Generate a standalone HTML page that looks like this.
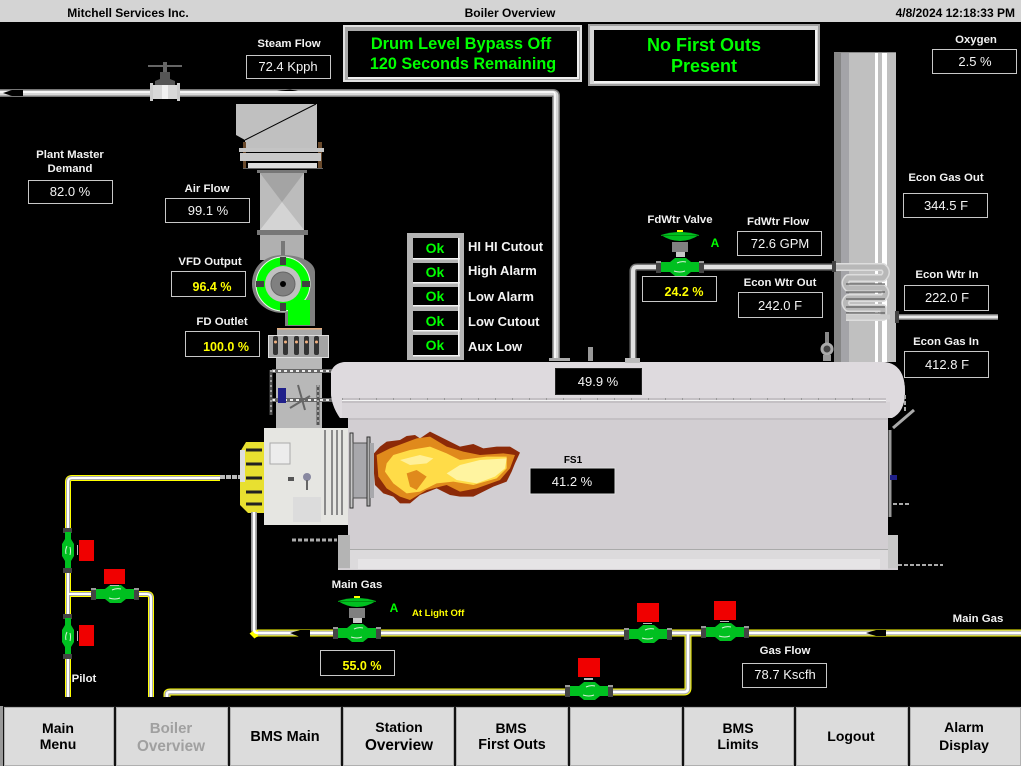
<!DOCTYPE html>
<html><head><meta charset="utf-8"><title>Boiler Overview</title>
<style>
html,body{margin:0;padding:0;background:#000;width:1021px;height:766px;overflow:hidden}
svg{display:block;font-family:"Liberation Sans",sans-serif}
.l{font-size:11.400px;font-weight:bold;fill:#f2f2f2;text-anchor:middle}
.v{font-size:13px;fill:#f4f4f4;text-anchor:middle}
.y{font-size:12.500px;font-weight:bold;fill:#ffff00;text-anchor:middle}
.b{fill:#000;stroke:#c8c8c8;stroke-width:1}
.a{font-size:13px;font-weight:bold;fill:#f4f4f4}
.g{font-weight:bold;fill:#00ff00;text-anchor:middle}
.m{font-size:14px;font-weight:bold;fill:#000;text-anchor:middle}
</style></head><body>
<svg width="1021" height="766" viewBox="0 0 1021 766" xmlns="http://www.w3.org/2000/svg">
<defs>
<g id="vh">
<rect x="-24" y="-6" width="5" height="12" fill="#444"/><rect x="19" y="-6" width="5" height="12" fill="#444"/>
<rect x="-24" y="-6" width="5" height="2" fill="#999"/><rect x="19" y="-6" width="5" height="2" fill="#999"/>
<path d="M-19-5H-10L-5-9H6L11-5H19V5H11L6 9H-5L-10 5H-19Z" fill="#00c020"/>
<path d="M-6 4Q0 6 5 4M-3-4Q1-6 6-5" stroke="#d8f0d8" fill="none"/>
</g>
<g id="vv">
<rect x="-5" y="-22" width="9" height="5" fill="#444"/><rect x="-5" y="18" width="9" height="5" fill="#444"/>
<path d="M-3-18V-11L-6-6V6L-3 11V18H3V11L6 6V-6L3-11V-18Z" fill="#00c020"/>
<path d="M-2 4Q-3 0-1-4M2 5Q3 1 2-3" stroke="#d8f0d8" fill="none"/>
<rect x="9" y="-5" width="1" height="10" fill="#bbb"/>
</g>
<g id="act">
<path d="M-19-32Q-10-35 0-35Q10-35 19-32Q10-26 0-26Q-10-26-19-32Z" fill="#00c020"/>
<rect x="-19" y="-32" width="38" height="1" fill="#009010"/>
<rect x="-3" y="-37" width="6" height="2" fill="#ffff00"/>
<rect x="-8" y="-25" width="16" height="10" fill="#808080"/><rect x="-4" y="-15" width="9" height="5" fill="#c8c8c8"/>
</g>
</defs>
<rect width="1021" height="766" fill="#000"/>

<!-- header -->
<rect width="1021" height="22" fill="#d4d4d4"/>
<text x="128" y="17" font-size="12" font-weight="bold" text-anchor="middle">Mitchell Services Inc.</text>
<text x="510" y="17" font-size="12" font-weight="bold" text-anchor="middle">Boiler Overview</text>
<text x="1015" y="17" font-size="12" font-weight="bold" text-anchor="end">4/8/2024 12:18:33 PM</text>

<!-- stack -->
<rect x="834" y="52" width="62" height="310" fill="#c0c0c0"/>
<rect x="834" y="52" width="7" height="310" fill="#868686"/><rect x="841" y="52" width="8" height="310" fill="#a4a4a8"/>
<rect x="875" y="52" width="3" height="310" fill="#fff"/><rect x="882" y="52" width="5" height="310" fill="#fff"/>
<rect x="834" y="52" width="62" height="1" fill="#888"/>

<!-- steam pipe -->
<path d="M0 93H553Q556 93 556 96V358" stroke="#777" stroke-width="8" fill="none"/>
<path d="M0 93H553Q556 93 556 96V358" stroke="#d8d8d8" stroke-width="5" fill="none"/>
<path d="M0 92H553Q555 92 555 95V358" stroke="#fff" stroke-width="1.500" fill="none"/>
<path d="M3 93L12 90H23V96H12Z" fill="#000"/><path d="M277 91L290 89.500L298 91Z" fill="#000"/>
<rect x="549" y="358" width="21" height="3" fill="#aaa"/>
<rect x="588" y="347" width="5" height="14" fill="#999"/>

<!-- steam valve -->
<rect x="148" y="65" width="34" height="2" fill="#666"/><rect x="163" y="62" width="4" height="16" fill="#666"/>
<path d="M160 72H170V79L175 81V85H155V81L160 79Z" fill="#555"/>
<rect x="150" y="83" width="3" height="18" fill="#ccc"/><rect x="177" y="83" width="3" height="18" fill="#ccc"/>
<rect x="153" y="85" width="24" height="14" fill="#d8d8d8"/><rect x="162" y="85" width="6" height="14" fill="#f0f0f0"/>

<!-- FD duct / fan -->
<path d="M236 104H317V148H245V140L236 135Z" fill="#c0c0c0"/>
<path d="M245 140L316 104" stroke="#000" fill="none"/>
<rect x="243" y="142" width="3" height="26" fill="#6a4a2c"/><rect x="318" y="142" width="4" height="26" fill="#6a4a2c"/>
<rect x="239" y="148" width="85" height="4" fill="#c4c4c4"/><rect x="240" y="153" width="81" height="8" fill="#c8c8c8"/>
<rect x="248" y="163" width="69" height="5" fill="#ddd"/><rect x="243" y="168" width="80" height="1" fill="#666"/>
<rect x="257" y="170" width="50" height="3" fill="#777"/>
<rect x="260" y="173" width="44" height="57" fill="#bcbcbc"/>
<path d="M260 173H304L282 202Z" fill="#a4a4a4"/><path d="M260 230H304L282 202Z" fill="#d4d4d4"/>
<rect x="257" y="230" width="51" height="5" fill="#777"/>
<rect x="260" y="235" width="44" height="25" fill="#b0b0b0"/>
<rect x="281" y="241" width="4" height="16" fill="#777"/>
<path d="M283 255C263 255 252 268 252 284C252 300 265 313 283 313H285V326H315V272C315 262 300 255 283 255Z" fill="#808080"/>
<circle cx="283" cy="284" r="27" fill="#00ff00"/><circle cx="283" cy="284" r="27" fill="none" stroke="#e8ffe8"/>
<rect x="288" y="300" width="22" height="25" fill="#00ff00"/>
<circle cx="283" cy="284" r="18" fill="#c0c0c0"/><circle cx="283" cy="284" r="12" fill="#808080" stroke="#666"/><circle cx="283" cy="284" r="3" fill="#000"/>
<rect x="280" y="257" width="6" height="8" fill="#404040"/><rect x="280" y="303" width="6" height="8" fill="#404040"/>
<rect x="256" y="281" width="8" height="6" fill="#404040"/><rect x="302" y="281" width="8" height="6" fill="#404040"/>
<rect x="277" y="328" width="45" height="7" fill="#aaa"/><rect x="277" y="328" width="45" height="1.500" fill="#e8b080"/>
<rect x="268.500" y="335.500" width="60" height="22" fill="#a4a4a4" stroke="#ddd"/>
<g fill="#333"><rect x="273" y="336" width="5" height="19" rx="2"/><rect x="283" y="336" width="5" height="19" rx="2"/><rect x="294" y="336" width="5" height="19" rx="2"/><rect x="304" y="336" width="5" height="19" rx="2"/><rect x="314" y="336" width="5" height="19" rx="2"/></g>
<g fill="#f0b080"><circle cx="275.500" cy="342" r="1.500"/><circle cx="285.500" cy="342" r="1.500"/><circle cx="296.500" cy="342" r="1.500"/><circle cx="306.500" cy="342" r="1.500"/><circle cx="316.500" cy="342" r="1.500"/></g>
<!-- burner piping -->
<rect x="276" y="358" width="46" height="72" fill="#b8b8b8"/>
<path d="M272 371H332M272 400H332" stroke="#666" stroke-width="4" fill="none"/>
<path d="M272 371H332M272 400H332" stroke="#eee" stroke-width="2" stroke-dasharray="3 3" fill="none"/>
<path d="M271 370V415M318 385V425" stroke="#555" stroke-width="3" fill="none"/>
<path d="M271 370V415M318 385V425" stroke="#eee" stroke-dasharray="2 3" fill="none"/>
<rect x="278" y="388" width="8" height="15" fill="#20208a"/>
<path d="M298 385L305 410M290 408L310 396" stroke="#666" stroke-width="2" fill="none"/>

<!-- boiler -->
<path d="M331 372Q334 363 345 362H884Q905 364 905 392Q905 414 888 418V535H898V570H338V535H348V418H340Q331 405 331 392Z" fill="#d2ced2"/>
<path d="M345 362H884Q905 364 905 392Q905 412 892 418H340Q331 405 331 392V372Q334 363 345 362Z" fill="#dedade"/>
<rect x="342" y="402" width="548" height="16" fill="#d8d4d8"/>
<rect x="342" y="398" width="544" height="5" fill="#c4c0c4"/><rect x="342" y="400" width="544" height="1" fill="#f4f4f4"/>
<path d="M342 399H886" stroke="#999" stroke-width="2" stroke-dasharray="1 16" fill="none"/>
<rect x="348" y="418" width="540" height="2" fill="#c4c0c4"/>
<rect x="350" y="550" width="538" height="19" fill="#dcdadc"/><rect x="350" y="549" width="538" height="1" fill="#aaa"/>
<rect x="358" y="559" width="522" height="10" fill="#e6e4e6"/>
<rect x="338" y="535" width="12" height="33" fill="#b4b4b4"/><rect x="888" y="535" width="10" height="33" fill="#c8c8c8"/>
<path d="M893 428L914 410" stroke="#aaa" stroke-width="3" fill="none"/>
<path d="M890 430V517" stroke="#999" stroke-width="3" fill="none"/>
<rect x="890" y="475" width="7" height="5" fill="#20208a"/>
<path d="M898 565H943M893 504H910M905 395V412" stroke="#aaa" stroke-width="2" stroke-dasharray="4 2" fill="none"/>
<rect x="825" y="332" width="4" height="12" fill="#888"/>
<circle cx="827" cy="349" r="5" fill="#444" stroke="#aaa" stroke-width="3"/><rect x="823" y="355" width="8" height="6" fill="#999"/>
<rect x="625" y="358" width="15" height="5" fill="#bbb"/>

<!-- feedwater pipe & coil -->
<path d="M633 358V271Q633 267 637 267H835" stroke="#777" stroke-width="7" fill="none"/>
<path d="M633 358V271Q633 267 637 267H835" stroke="#e0e0e0" stroke-width="4" fill="none"/>
<g fill="none" stroke-linejoin="round">
<path d="M835 267H883Q889 272 883 278H848Q843 283 848 288H883Q888 293 883 298H848Q843 303 848 308H883V317H846" stroke="#ddd" stroke-width="8"/>
<path d="M835 267H883Q889 272 883 278H848Q843 283 848 288H883Q888 293 883 298H848Q843 303 848 308H883V317H846" stroke="#b8b8b8" stroke-width="5"/>
</g>
<path d="M846 284H885M846 292H885M846 299H885M846 307H885M846 313H885" stroke="#444" fill="none"/>
<path d="M846 317H890" stroke="#ccc" stroke-width="5" fill="none"/>
<path d="M897 317H998" stroke="#777" stroke-width="6" fill="none"/><path d="M897 317H998" stroke="#e8e8e8" stroke-width="3" fill="none"/>
<rect x="832" y="261" width="4" height="11" fill="#444"/><rect x="895" y="311" width="4" height="12" fill="#444"/>

<!-- burner front -->
<rect x="264" y="428" width="84" height="97" fill="#e6e6e2"/>
<path d="M325 430V515M332 430V515M337 430V515M342 430V515" stroke="#8a8a8a" stroke-width="2" fill="none"/>
<rect x="270" y="443" width="20" height="21" fill="#ececec" stroke="#aaa"/>
<rect x="293" y="497" width="28" height="25" fill="#dcdcdc"/>
<circle cx="307" cy="477" r="4" fill="#8888a0"/><rect x="306" y="480" width="2" height="10" fill="#666"/>
<rect x="288" y="477" width="6" height="4" fill="#555"/>
<path d="M264 442H246L240 452V505L248 513H264Z" fill="#e8e030"/>
<path d="M246 450H262M246 464H262M246 478H262M246 492H262M246 504H262" stroke="#222" stroke-width="3" fill="none"/>
<rect x="240" y="450" width="5" height="32" fill="#ddd"/>
<path d="M220 477H240" stroke="#bbb" stroke-width="4" stroke-dasharray="5 1" fill="none"/>
<path d="M292 540H337" stroke="#aaa" stroke-width="3" stroke-dasharray="4 2" fill="none"/>
<rect x="350" y="433" width="3" height="75" fill="#c8c8c8" stroke="#333"/>
<rect x="353" y="443" width="14" height="55" fill="#a8a8ac" stroke="#555"/>
<rect x="367" y="437" width="3" height="69" fill="#b0b0b0" stroke="#333"/>
<rect x="370" y="443" width="4" height="55" fill="#a8a8ac"/>

<!-- flame -->
<g transform="translate(220 340) scale(.33333)">
<path d="M462 340 480 320 500 305 540 300 560 288 585 285 600 295 630 275 660 290 690 305 720 320 760 312 790 325 830 320 870 320 900 338 885 370 875 395 860 425 820 440 790 455 760 470 720 470 690 465 650 445 600 465 570 490 540 490 520 470 490 460 465 435 462 400Z" fill="#8c2a08"/>
<path d="M470 345 510 325 550 310 590 295 630 290 680 320 730 335 780 345 850 340 885 345 870 385 840 420 770 445 720 455 680 435 620 450 570 480 540 470 500 445 475 410Z" fill="#e08a1c"/>
<path d="M520 345 570 330 630 320 680 340 720 360 800 350 860 350 860 385 830 415 760 435 700 425 650 430 600 455 560 460 520 430 495 395 500 370Z" fill="#ffdc48"/>
<path d="M680 400 720 375 780 360 860 355 855 385 825 410 770 430 710 420Z" fill="#fff4a0"/>
<path d="M540 360 600 345 640 355 620 370 570 375Z" fill="#fff09a"/>
<path d="M560 400 590 390 620 410 590 450 570 440Z" fill="#e08a1c"/>
</g>

<!-- gas pipes -->
<g fill="none" stroke-linejoin="round">
<g stroke="#ffff00" stroke-width="6"><path d="M220 478H72Q68 478 68 482V697"/><path d="M68 594H147Q151 594 151 598V697"/></g>
<g stroke="#aaa" stroke-width="4"><path d="M220 478H72Q68 478 68 482V697"/><path d="M68 594H147Q151 594 151 598V697"/></g>
<g stroke="#fff" stroke-width="2"><path d="M220 478H72Q68 478 68 482V697"/><path d="M68 594H147Q151 594 151 598V697"/></g>
<path d="M254 512V629Q254 633 258 633" stroke="#999" stroke-width="6"/>
<path d="M167 697V694Q167 692 170 692H684Q688 692 688 688V633M1021 633H258Q254 634 252 636" stroke="#ffff00" stroke-width="7"/>
<path d="M167 697V694Q167 692 170 692H684Q688 692 688 688V633M1021 633H258" stroke="#aaa" stroke-width="5"/>
<path d="M167 697V694Q167 692 170 692H684Q688 692 688 688V633M1021 633H258Q254 633 254 629V512" stroke="#fff" stroke-width="2.500"/>
</g>
<path d="M290 633L300 630H310V637H300Z" fill="#000"/><path d="M866 633L876 630H886V636H876Z" fill="#000"/>

<!-- valves -->
<use href="#vv" x="68" y="550"/><use href="#vv" x="68" y="636"/>
<use href="#vh" x="115" y="594"/><use href="#vh" x="357" y="633"/><use href="#vh" x="648" y="634"/><use href="#vh" x="725" y="632"/><use href="#vh" x="589" y="691"/><use href="#vh" x="680" y="267"/>
<use href="#act" x="357" y="633"/><use href="#act" x="680" y="267"/>
<g fill="#f00000">
<rect x="79" y="540" width="15" height="21"/><rect x="79" y="625" width="15" height="21"/><rect x="104" y="569" width="21" height="15"/>
<rect x="637" y="603" width="22" height="19"/><rect x="714" y="601" width="22" height="19"/><rect x="578" y="658" width="22" height="19"/>
</g>
<g fill="#bbb"><rect x="110" y="585" width="9" height="1"/><rect x="643" y="623" width="9" height="1"/><rect x="720" y="621" width="9" height="1"/><rect x="584" y="678" width="9" height="2"/></g>

<!-- first-out panels -->
<rect x="343" y="25" width="239" height="57" fill="#e0e0e0"/><rect x="345" y="27" width="235" height="53" fill="#a8a8a8"/><rect x="348" y="31" width="229" height="46" fill="#000"/>
<rect x="348" y="77" width="229" height="2" fill="#f0f0f0"/><rect x="577" y="31" width="2" height="48" fill="#f0f0f0"/>
<text class="g" x="461" y="49" font-size="16.400">Drum Level Bypass Off</text><text class="g" x="463" y="69" font-size="16.200">120 Seconds Remaining</text>
<rect x="588" y="24" width="232" height="62" fill="#a0a0a0"/><rect x="590" y="26" width="228" height="58" fill="#d8d8d8"/><rect x="594" y="30" width="221" height="51" fill="#000"/>
<rect x="594" y="81" width="223" height="2" fill="#f4f4f4"/><rect x="815" y="30" width="2" height="53" fill="#f4f4f4"/>
<text class="g" x="704" y="51" font-size="18">No First Outs</text><text class="g" x="704" y="72" font-size="18">Present</text>

<!-- OK stack -->
<rect x="407" y="233" width="57" height="127" fill="#b4b4b4"/>
<g fill="#000">
<rect x="413" y="238" width="45" height="20"/><rect x="413" y="263" width="45" height="19"/><rect x="413" y="287" width="45" height="18"/><rect x="413" y="311" width="45" height="19"/><rect x="413" y="335" width="45" height="20"/></g>
<g fill="#f4f4f4">
<rect x="413" y="258" width="47" height="1.500"/><rect x="413" y="282" width="47" height="1.500"/><rect x="413" y="305" width="47" height="1.500"/><rect x="413" y="330" width="47" height="1.500"/><rect x="413" y="355" width="47" height="1.500"/>
<rect x="458" y="238" width="1.500" height="118"/></g>
<g class="g" font-size="14"><text x="435" y="253">Ok</text><text x="435" y="277">Ok</text><text x="435" y="301">Ok</text><text x="435" y="326">Ok</text><text x="435" y="350">Ok</text></g>
<text class="a" x="468" y="251">HI HI Cutout</text><text class="a" x="468" y="275">High Alarm</text><text class="a" x="468" y="301">Low Alarm</text><text class="a" x="468" y="326">Low Cutout</text><text class="a" x="468" y="351">Aux Low</text>

<!-- data boxes -->
<text class="l" x="289" y="47">Steam Flow</text><rect class="b" x="246.500" y="55.500" width="84" height="23"/><text class="v" x="288" y="71">72.4 Kpph</text>
<text class="l" x="70" y="158">Plant Master</text><text class="l" x="70" y="172">Demand</text><rect class="b" x="28.500" y="180.500" width="84" height="23"/><text class="v" x="70" y="196">82.0 %</text>
<text class="l" x="207" y="192">Air Flow</text><rect class="b" x="165.500" y="198.500" width="84" height="24"/><text class="v" x="208" y="215">99.1 %</text>
<text class="l" x="210" y="265">VFD Output</text><rect class="b" x="171.500" y="271.500" width="74" height="25"/><text class="y" x="212" y="291">96.4 %</text>
<text class="l" x="222" y="325">FD Outlet</text><rect class="b" x="185.500" y="331.500" width="74" height="25"/><text class="y" x="226" y="351">100.0 %</text>
<text class="l" x="680" y="223">FdWtr Valve</text><text class="g" x="715" y="247" font-size="12">A</text>
<rect class="b" x="642.500" y="276.500" width="74" height="25"/><text class="y" x="684" y="296">24.2 %</text>
<text class="l" x="778" y="225">FdWtr Flow</text><rect class="b" x="737.500" y="231.500" width="84" height="24"/><text class="v" x="780" y="248">72.6 GPM</text>
<text class="l" x="780" y="286">Econ Wtr Out</text><rect class="b" x="738.500" y="292.500" width="84" height="25"/><text class="v" x="780" y="310">242.0 F</text>
<text class="l" x="976" y="43">Oxygen</text><rect class="b" x="932.500" y="49.500" width="84" height="24"/><text class="v" x="975" y="66">2.5 %</text>
<text class="l" x="946" y="181">Econ Gas Out</text><rect class="b" x="903.500" y="193.500" width="84" height="24"/><text class="v" x="946" y="210">344.5 F</text>
<text class="l" x="947" y="278">Econ Wtr In</text><rect class="b" x="904.500" y="285.500" width="84" height="25"/><text class="v" x="947" y="302">222.0 F</text>
<text class="l" x="946" y="345">Econ Gas In</text><rect class="b" x="904.500" y="351.500" width="84" height="26"/><text class="v" x="947" y="369">412.8 F</text>
<rect x="555.500" y="368.500" width="86" height="26" fill="#000" stroke="#222"/><text class="v" x="598" y="386">49.9 %</text>
<text x="573" y="463" font-size="10" font-weight="bold" text-anchor="middle">FS1</text>
<rect x="530" y="468" width="85" height="26" fill="#000" stroke="#ddd"/><text class="v" x="572" y="486">41.2 %</text>
<text class="l" x="357" y="588">Main Gas</text><text class="g" x="394" y="612" font-size="12">A</text>
<text x="412" y="616" font-size="9.500" font-weight="bold" fill="#ffff00">At Light Off</text>
<rect class="b" x="320.500" y="650.500" width="74" height="25"/><text class="y" x="362" y="670">55.0 %</text>
<text class="l" x="84" y="682">Pilot</text>
<text class="l" x="978" y="622">Main Gas</text>
<text class="l" x="785" y="654">Gas Flow</text><rect class="b" x="742.500" y="663.500" width="84" height="24"/><text class="v" x="785" y="679">78.7 Kscfh</text>

<!-- footer buttons -->
<rect x="0" y="706" width="1021" height="60" fill="#111"/><rect x="0" y="706" width="3" height="60" fill="#999"/>
<g fill="#dcdcdc" stroke="#b0b0b0">
<rect x="4.500" y="707.500" width="109" height="58"/><rect x="116.500" y="707.500" width="111" height="58"/><rect x="230.500" y="707.500" width="110" height="58"/><rect x="343.500" y="707.500" width="110" height="58"/><rect x="456.500" y="707.500" width="111" height="58"/><rect x="570.500" y="707.500" width="111" height="58"/><rect x="684.500" y="707.500" width="109" height="58"/><rect x="796.500" y="707.500" width="111" height="58"/><rect x="910.500" y="707.500" width="110" height="58"/>
</g>
<text class="m" x="58" y="733">Main</text><text class="m" x="58" y="749">Menu</text>
<text class="m" style="fill:#a0a0a0;font-size:15px" x="171" y="733">Boiler</text><text class="m" style="fill:#a0a0a0;font-size:15.300px" x="171" y="751">Overview</text>
<text class="m" style="font-size:14.500px" x="285" y="741">BMS Main</text>
<text class="m" x="399" y="732">Station</text><text class="m" style="font-size:15.300px" x="399" y="750">Overview</text>
<text class="m" x="511" y="733">BMS</text><text class="m" style="font-size:14.300px" x="512" y="749">First Outs</text>
<text class="m" x="738" y="733">BMS</text><text class="m" x="738" y="749">Limits</text>
<text class="m" x="851" y="741">Logout</text>
<text class="m" x="964" y="732">Alarm</text><text class="m" x="964" y="750">Display</text>
</svg>
</body></html>
